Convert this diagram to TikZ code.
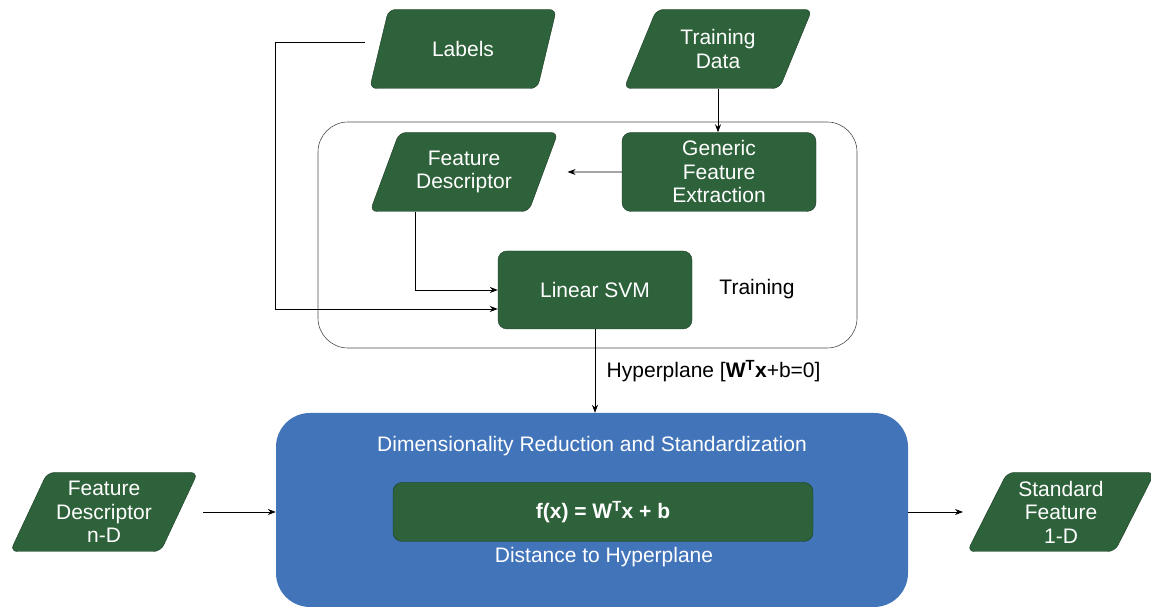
\documentclass[tikz,border=0pt]{standalone}
\usepackage{fontspec}
\setmainfont{Liberation Sans}
\usetikzlibrary{arrows.meta, positioning, shapes.geometric, calc}
\definecolor{boxgreen}{RGB}{45, 98, 58}
\definecolor{boxedge}{RGB}{28, 58, 36}
\definecolor{stageblue}{RGB}{66, 116, 186}

\begin{document}
\begin{tikzpicture}[
        x=1pt, y=1pt,
        font=\fontsize{21}{23.5}\selectfont,
        data/.style={trapezium, trapezium left angle=63, trapezium right angle=117,
                     trapezium stretches=true, draw=boxedge, fill=boxgreen,
                     rounded corners=7pt, minimum width=188pt, minimum height=79pt,
                     inner sep=0pt, text=white, align=center},
        process/.style={rectangle, rounded corners=9pt, draw=boxedge, fill=boxgreen,
                        minimum width=194pt, minimum height=79pt,
                        text=white, align=center},
        arrow/.style={-{Stealth[length=8pt, width=6pt]}, line width=0.8pt},
    ]
        \useasboundingbox (0,0) rectangle (1151,609);

        % Training stage
        \node[draw=black!70, line width=0.6pt, rounded corners=30pt,
              minimum width=539pt, minimum height=226pt] (trainbox) at (587.5,374) {};
        \node[data] (labels) at (463,560) {Labels};
        \node[data] (tdata) at (718,560) {Training\\Data};
        \node[data] (fdesc) at (464,437) {Feature\\Descriptor};
        \node[process] (gfe) at (719,437) {Generic\\Feature\\Extraction};
        \node[process, minimum height=78pt] (svm) at (595,319) {Linear SVM};
        \node (trainlbl) at (757,320) {Training};

        \draw[arrow] (tdata.south) -- (tdata.south |- gfe.north);
        \draw[arrow] (gfe.west) -- ([xshift=24pt]fdesc.east);
        \draw[arrow] ([xshift=-49pt]fdesc.south) |- (svm.west);
        \draw[arrow] ($(labels.bottom left corner)+(-4,46)$) -- ++(-90,0) |- ([yshift=-19pt]svm.west);

        % Reduction stage
        \node[fill=stageblue, rounded corners=34pt,
              minimum width=632pt, minimum height=194pt] (blue) at (592,99) {};
        \node[text=white] (dimtext) at (592,163) {Dimensionality Reduction and Standardization};
        \node[process, minimum width=420pt, minimum height=59pt] (fbox) at (603,97)
            {\textbf{f(x) = W\textsuperscript{T}x + b}};
        \node[text=white] (dist) at (604,52) {Distance to Hyperplane};
        \node[data] (fdn) at (104,97) {Feature\\Descriptor\\n-D};
        \node[data] (std) at (1061,97) {Standard\\Feature\\1-D};

        \draw[arrow] (svm.south) -- (svm.south |- blue.north)
            node[pos=0.5, right=8pt] {Hyperplane [\textbf{W\textsuperscript{T}x}+b=0]};
        \draw[arrow] ([xshift=24pt]fdn.east) -- (blue.west |- fdn.east);
        \draw[arrow] (blue.east |- std.west) -- ([xshift=-24pt]std.west);
    \end{tikzpicture}
\end{document}
